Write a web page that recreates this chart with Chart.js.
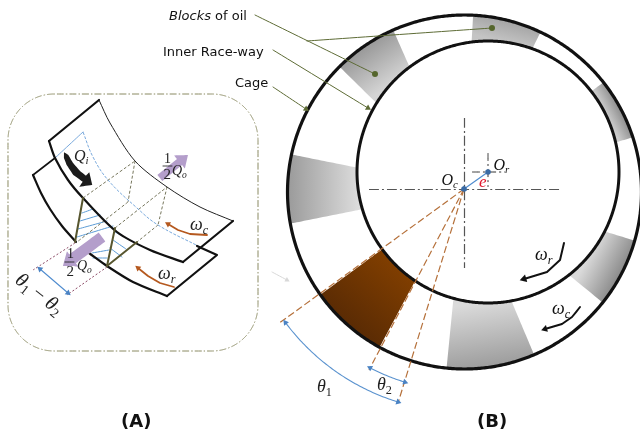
<!DOCTYPE html>
<html>
<head>
<meta charset="utf-8">
<style>
  html, body { margin: 0; padding: 0; background: #fff; }
  canvas { display: block; }
</style>
<script src="https://cdn.jsdelivr.net/npm/chart.js@4/dist/chart.umd.js"></script>
</head>
<body>
<canvas id="diagram" width="640" height="433"></canvas>
<script>
// ─── VALUES (axes run 0-640 / 0-433) ──────────────────────────
const cageCentre = [464.5, 192];
const cageRadius = 177;
const raceCentre = [488, 172];
const raceRadius = 131;
const pivot = [464, 189];              // O_c, the oil block edges all run through it

// blocks of oil, degrees around O_c
const blockStart = [114, 64, 17, 168.7, 216.4, 264.5, 320.7];
const blockEnd = [135.5, 87, 37.4, 191.3, 242, 293, 343.2];
const blockOuterColor = ["#989898", "#a4a4a4", "#8c8c8c", "#9a9a9a", "#5a2b04", "#9c9c9c", "#8a8a8a"];
const blockInnerColor = ["#d4d4d4", "#c4c4c4", "#cccccc", "#dcdcdc", "#803e00", "#dadada", "#dadada"];

// sheet outlines in panel A
const cageSheetTop = [[49, 141], [99, 100]];
const cageSheetFar = [[99, 100], [110, 123], [135, 161], [167, 187], [200, 207], [233, 221]];
const cageSheetNear = [[49, 141], [55, 158], [68, 180], [83, 198], [117, 232], [150, 250], [183, 262]];
const cageSheetEnd = [[183, 262], [233, 221]];
const raceSheetTop = [[33, 175], [55, 158]];
const raceSheetNear = [[33, 175], [41, 193], [50, 209], [62, 226], [76, 242]];
const raceSheetNear2 = [[89, 253], [107, 266], [133, 282], [167, 296]];
const raceSheetEnd = [[167, 296], [217, 255], [197, 246]];
const midLineStraight = [[55, 158], [83, 132]];
const midLineCurve = [[83, 132], [93, 157], [108, 180], [137, 208], [158, 225], [200, 247]];

const gridDashed = [
  [[83, 198], [135, 161]], [[135, 161], [128, 202]], [[115, 228], [167, 187]],
  [[167, 187], [158, 225]], [[128, 202], [77, 242]], [[158, 225], [137, 242]]
];
const gridSolid = [
  [[83, 198], [75, 242]], [[115, 228], [107, 266]], [[107, 266], [137, 242]]
];
const hatch = [
  [[82, 213], [93, 209]], [[80, 221], [100, 215]], [[78, 229], [107, 221]], [[77, 237], [113, 226]],
  [[92, 253], [109, 250]], [[93, 258], [107, 258]], [[115, 232], [130, 240]],
  [[113, 240], [126, 249]], [[110, 248], [122, 257]]
];

const crossLong = [[[369, 189.5], [561, 189.5]], [[464.5, 118], [464.5, 268]]];
const crossShort = [[[472, 172], [505, 172]], [[488, 153], [488, 187]]];
const rayEnds = [[278, 324], [369, 370], [398, 403]];

const theta1Arc = { r: 223, from: 216.8, to: 252.8 };
const theta2Arc = { r: 202, from: 242.3, to: 253 };

const leaderDot = [[[255, 15], [375, 74]], [[307, 41], [492, 28]]];
const leaderArrow = [[[273, 50], [368, 108]], [[273, 87], [306, 109]]];

const omegaCageA = [[207, 235], [190, 234], [178, 230], [168, 224]];
const omegaRaceA = [[174, 287], [160, 283], [148, 276], [138, 268]];
const omegaRaceB = [[564, 243], [560, 260], [547, 272], [524, 279]];
const omegaCageB = [[580, 307], [572, 317], [562, 324], [545, 329]];

const qiOutline = [[64, 152.3], [68.3, 155], [73.3, 163.3], [80, 171], [86, 175.7], [89.3, 172.3], [92.3, 185], [79.3, 186.7], [82.7, 181.7], [73.3, 175], [66.7, 165], [64, 158.3]];
const panelBox = { left: 8, right: 258, top: 94, bottom: 351, r: 46 };

// ─── HELPERS ──────────────────────────────────────────────────
const toXY = (p) => ({ x: p[0], y: p[1] });

const onCircle = (c, R, deg) => {
  // where the ray from the pivot at this angle meets a circle
  const a = deg * Math.PI / 180;
  const dx = Math.cos(a), dy = -Math.sin(a);
  const fx = pivot[0] - c[0], fy = pivot[1] - c[1];
  const b = fx * dx + fy * dy;
  const t = -b + Math.sqrt(b * b - (fx * fx + fy * fy - R * R));
  return [pivot[0] + t * dx, pivot[1] + t * dy];
};

const sweep = (from, to, step) => {
  const out = [];
  for (let d = from; d < to; d += step) out.push(d);
  out.push(to);
  return out;
};

const arcAround = (c, r, from, to) => sweep(from, to, 1).map(d => {
  const a = d * Math.PI / 180;
  return [c[0] + r * Math.cos(a), c[1] - r * Math.sin(a)];
});

const headAngle = (a, b) => Math.atan2(b[0] - a[0], a[1] - b[1]) * 180 / Math.PI;

const datasets = [];

const addLine = (pts, color, width, extra = {}) => {
  datasets.push({
    data: pts.map(toXY), showLine: true, borderColor: color, borderWidth: width,
    pointRadius: 0, pointHoverRadius: 0, backgroundColor: "transparent",
    borderCapStyle: "round", borderJoinStyle: "round", ...extra
  });
};

const addShape = (pts, fillColor) => {
  datasets.push({
    data: pts.concat([pts[0]]).map(toXY), showLine: true, borderWidth: 0, borderColor: "transparent",
    pointRadius: 0, pointHoverRadius: 0, backgroundColor: fillColor, fill: "shape"
  });
};

const addHead = (from, to, color, size) => {
  datasets.push({
    data: [toXY(to)], showLine: false, pointStyle: "triangle", pointRadius: size, pointHoverRadius: size,
    pointRotation: headAngle(from, to), pointBackgroundColor: color, pointBorderColor: color, pointBorderWidth: 0
  });
};

const addDots = (pts, color, size) => {
  datasets.push({
    data: pts.map(toXY), showLine: false, pointStyle: "circle", pointRadius: size, pointHoverRadius: size,
    pointBackgroundColor: color, pointBorderColor: color, pointBorderWidth: 0
  });
};

const addArrow = (pts, color, width, size) => {
  addLine(pts, color, width);
  addHead(pts[pts.length - 2], pts[pts.length - 1], color, size);
};

const fatArrow = (a, b, w, headW, headL) => {
  const len = Math.hypot(b[0] - a[0], b[1] - a[1]);
  const ux = (b[0] - a[0]) / len, uy = (b[1] - a[1]) / len;
  const nx = -uy, ny = ux;
  const neck = [b[0] - ux * headL, b[1] - uy * headL];
  return [
    [a[0] + nx * w / 2, a[1] + ny * w / 2], [neck[0] + nx * w / 2, neck[1] + ny * w / 2],
    [neck[0] + nx * headW / 2, neck[1] + ny * headW / 2], b,
    [neck[0] - nx * headW / 2, neck[1] - ny * headW / 2], [neck[0] - nx * w / 2, neck[1] - ny * w / 2],
    [a[0] - nx * w / 2, a[1] - ny * w / 2]
  ];
};

// ─── PANEL B ──────────────────────────────────────────────────
blockStart.forEach((start, i) => {
  const end = blockEnd[i];
  const outer = sweep(start, end, 1.5).map(d => onCircle(cageCentre, cageRadius, d));
  const inner = sweep(start, end, 1.5).map(d => onCircle(raceCentre, raceRadius, d)).reverse();
  const mid = (start + end) / 2;
  const from = onCircle(cageCentre, cageRadius, mid);
  const to = onCircle(raceCentre, raceRadius, mid);
  addShape(outer.concat(inner), (ctx) => {
    const { chartArea, scales } = ctx.chart;
    if (!chartArea) return blockInnerColor[i];   // not laid out yet
    const g = ctx.chart.ctx.createLinearGradient(
      scales.x.getPixelForValue(from[0]), scales.y.getPixelForValue(from[1]),
      scales.x.getPixelForValue(to[0]), scales.y.getPixelForValue(to[1]));
    g.addColorStop(0, blockOuterColor[i]);
    g.addColorStop(1, blockInnerColor[i]);
    return g;
  });
});

addLine(arcAround(cageCentre, cageRadius, 0, 360), "#111", 3.2);
addLine(arcAround(raceCentre, raceRadius, 0, 360), "#111", 3);

crossLong.forEach(l => addLine(l, "#555", 1.2, { borderDash: [10, 3, 2, 3], borderCapStyle: "butt" }));
crossShort.forEach(l => addLine(l, "#333", 1, { borderDash: [8, 3, 2, 3], borderCapStyle: "butt" }));
rayEnds.forEach(p => addLine([pivot, p], "#b5703a", 1.2, { borderDash: [7, 3], borderCapStyle: "butt" }));

addArrow([raceCentre, pivot], "#4f8ccf", 1.2, 3.5);
addDots([raceCentre, pivot], "#3a6ba5", 2.8);

[theta1Arc, theta2Arc].forEach(arc => {
  const pts = arcAround(pivot, arc.r, arc.from, arc.to);
  addLine(pts, "#5b93cf", 1.1);
  addHead(pts[1], pts[0], "#4a83c4", 3.5);
  addHead(pts[pts.length - 2], pts[pts.length - 1], "#4a83c4", 3.5);
});

leaderDot.forEach(l => { addLine(l, "#5d6b35", 1); addDots([l[1]], "#55662c", 3); });
leaderArrow.forEach(l => addArrow(l, "#5d6b35", 1, 3.5));
addArrow(omegaRaceB, "#111", 2, 4.5);
addArrow(omegaCageB, "#111", 2, 4);
addArrow([[272, 272], [287, 280]], "#d8d8d8", 1, 3);

// ─── PANEL A ──────────────────────────────────────────────────
const b = panelBox;
addLine([
  ...arcAround([b.left + b.r, b.top + b.r], b.r, 90, 180),
  ...arcAround([b.left + b.r, b.bottom - b.r], b.r, 180, 270),
  ...arcAround([b.right - b.r, b.bottom - b.r], b.r, 270, 360),
  ...arcAround([b.right - b.r, b.top + b.r], b.r, 0, 90),
  [b.left + b.r, b.top]
], "#8a8a62", 1, { borderDash: [7, 2, 1.5, 2], borderCapStyle: "butt" });

hatch.forEach(l => addLine(l, "#5b9bd5", 1));
gridDashed.forEach(l => addLine(l, "#66664a", 0.9, { borderDash: [3, 2], borderCapStyle: "butt" }));
addLine(midLineStraight, "#6a9fd8", 0.9);
addLine(midLineCurve, "#6a9fd8", 0.9, { tension: 0.4, borderDash: [3, 1.5], borderCapStyle: "butt" });

addLine(raceSheetTop, "#111", 1.6);
addLine(raceSheetNear, "#111", 2.2, { tension: 0.3 });
addLine(raceSheetNear2, "#111", 2.2, { tension: 0.3 });
addLine(raceSheetEnd, "#111", 2.2);
addLine(cageSheetTop, "#111", 2.2);
addLine(cageSheetFar, "#222", 1, { tension: 0.3 });
addLine(cageSheetNear, "#111", 2.2, { tension: 0.3 });
addLine(cageSheetEnd, "#111", 2.2);
gridSolid.forEach(l => addLine(l, "#57562f", 2));

addShape(fatArrow([160, 178], [188, 155], 8, 17, 11), "#b49ecb");
addShape(fatArrow([102, 237], [63, 266], 11, 19, 12), "#b49ecb");
addShape(qiOutline, "#1c1c1c");

addLine([[75, 243], [33, 270]], "#8c4a66", 1, { borderDash: [2, 2], borderCapStyle: "butt" });
addLine([[107, 267], [67, 295]], "#8c4a66", 1, { borderDash: [2, 2], borderCapStyle: "butt" });
addLine([[40, 269], [68, 293]], "#4f8ccf", 1.1);
addHead([68, 293], [40, 269], "#4a83c4", 3.5);
addHead([40, 269], [68, 293], "#4a83c4", 3.5);

addArrow(omegaCageA, "#b5591f", 1.8, 3.5);
addArrow(omegaRaceA, "#b5591f", 1.8, 3.5);
addLine([[163, 166], [172, 166]], "#222", 0.9);
addLine([[65, 262], [74, 262]], "#222", 0.9);

// ─── TEXT ─────────────────────────────────────────────────────
const SANS = "'DejaVu Sans'";
const MATH = "'Liberation Serif'";
// parts are [text, style]: "" plain, "i" italic, "b" italic subscript, "s" upright subscript
const textParts = [
  [["Blocks", "i"], [" of oil", ""]],
  [["Inner Race-way", ""]],
  [["Cage", ""]],
  [["(A)", "B"]],
  [["(B)", "B"]],
  [["O", "i"], ["c", "b"]],
  [["O", "i"], ["r", "b"]],
  [["e", "i"]],
  [["ω", "i"], ["r", "b"]],
  [["ω", "i"], ["c", "b"]],
  [["θ", "i"], ["1", "s"]],
  [["θ", "i"], ["2", "s"]],
  [["Q", "i"], ["i", "b"]],
  [["1", ""]], [["2", ""]], [["Q", "i"], ["o", "b"]],
  [["1", ""]], [["2", ""]], [["Q", "i"], ["o", "b"]],
  [["ω", "i"], ["c", "b"]],
  [["ω", "i"], ["r", "b"]],
  [["θ", "i"], ["1", "s"], [" − ", ""], ["θ", "i"], ["2", "s"]]
];
const textX = [169, 163, 235, 121, 477, 441.5, 493.5, 479, 535, 552, 317, 377, 74, 164, 163.5, 172, 67, 66.5, 77, 190, 158, 14];
const textY = [20, 56, 87, 427, 427, 185, 170, 187, 260, 314, 392, 390, 161, 163, 179, 175, 258, 276, 270, 230, 279, 282];
const textSize = [13, 13, 13, 18, 18, 16, 16, 17, 18, 18, 18, 18, 16, 14, 15, 14, 14, 15, 14, 18, 18, 20];
const textFont = [SANS, SANS, SANS, SANS, SANS, MATH, MATH, MATH, MATH, MATH, MATH, MATH, MATH, MATH, MATH, MATH, MATH, MATH, MATH, MATH, MATH, MATH];
const textColor = ["#111", "#111", "#111", "#111", "#111", "#111", "#111", "#e0182d", "#111", "#111", "#222", "#222", "#222", "#222", "#222", "#222", "#222", "#222", "#222", "#222", "#222", "#222"];
const textTurn = [0, 0, 0, 0, 0, 0, 0, 0, 0, 0, 0, 0, 0, 0, 0, 0, 0, 0, 0, 0, 0, 38];

const textPlugin = {
  id: "diagramText",
  afterDatasetsDraw(chart) {
    const { ctx, scales } = chart;
    textParts.forEach((parts, i) => {
      ctx.save();
      ctx.translate(scales.x.getPixelForValue(textX[i]), scales.y.getPixelForValue(textY[i]));
      ctx.rotate(textTurn[i] * Math.PI / 180);
      ctx.fillStyle = textColor[i];
      ctx.textBaseline = "alphabetic";
      let pen = 0;
      parts.forEach(([str, style]) => {
        const sub = style === "b" || style === "s";
        const size = sub ? textSize[i] * 0.68 : textSize[i];
        const face = style === "B" ? "bold " : (style === "i" || style === "b") ? "italic " : "";
        ctx.font = `${face}${size}px ${textFont[i]}`;
        ctx.fillText(str, pen, sub ? textSize[i] * 0.2 : 0);
        pen += ctx.measureText(str).width;
      });
      ctx.restore();
    });
  }
};

// first dataset is drawn last by Chart.js, so hand them over back to front
new Chart(document.getElementById("diagram"), {
  type: "scatter",
  data: { datasets: datasets.slice().reverse() },
  options: {
    responsive: false,
    animation: false,
    layout: { autoPadding: false, padding: 0 },
    plugins: { legend: { display: false }, tooltip: { enabled: false } },
    // a tiny tension keeps Chart.js off its per-pixel fast path, which makes steep arcs jagged
    elements: { line: { tension: 0.001 } },
    scales: {
      x: { type: "linear", min: 0, max: 640, display: false },
      y: { type: "linear", min: 0, max: 433, reverse: true, display: false }
    }
  },
  plugins: [textPlugin]
});
</script>
</body>
</html>
